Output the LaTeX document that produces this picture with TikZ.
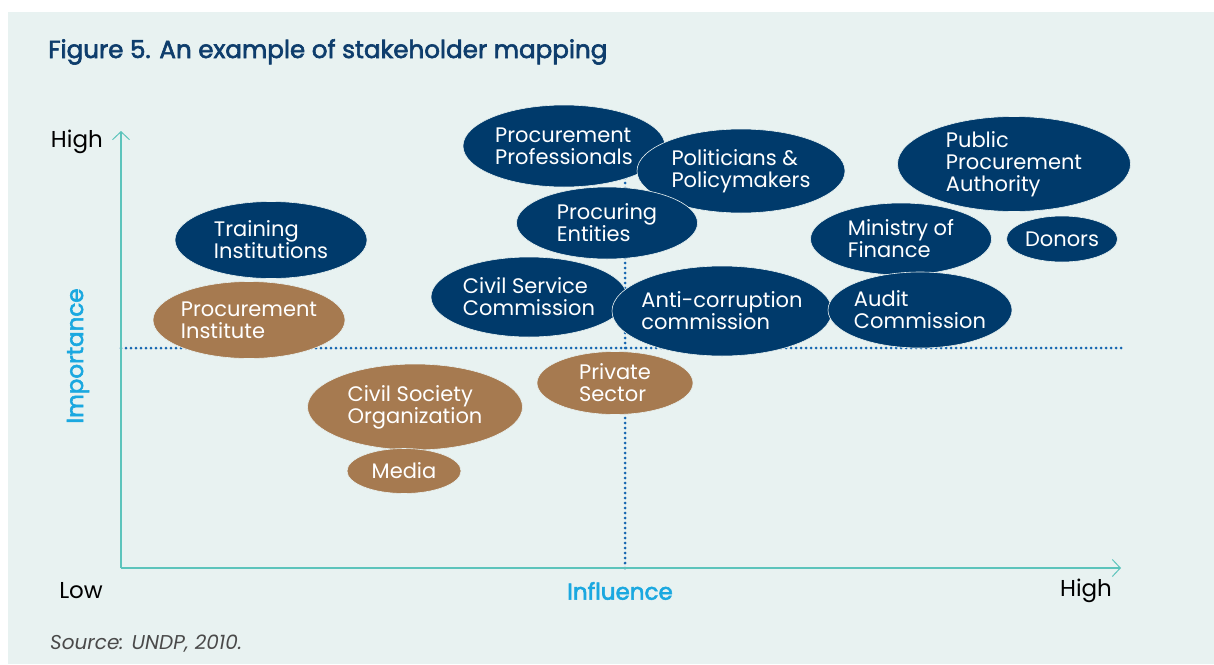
\documentclass[tikz,border=0pt]{standalone}
\usepackage{fontspec}
\usepackage{xcolor}
\usepackage{tikz}
\setmainfont{Poppins}
\newfontfamily\headfont[FakeBold=2.5]{Poppins}
\usetikzlibrary{shapes.geometric, arrows.meta}
\definecolor{panelbg}{HTML}{E8F2F1}
\definecolor{navyfill}{HTML}{003A6B}
\definecolor{brownfill}{HTML}{A67A50}
\definecolor{axisteal}{HTML}{5CC4BC}
\definecolor{dotblue}{HTML}{1565B0}
\definecolor{labelcyan}{HTML}{1AA8E0}
\definecolor{titlenavy}{HTML}{0E3D6C}
\definecolor{sourcegray}{HTML}{4A4A4A}
\tikzset{
    navyblob/.style = {ellipse, fill=navyfill, draw=panelbg, line width=0.6pt, text=white, inner xsep=-40pt, inner ysep=-20pt, align=left, font=\fontsize{21}{22}\selectfont},
    brownblob/.style = {navyblob, fill=brownfill},
    axis/.style = {line width=1.4pt, draw=axisteal, -{Straight Barb[length=8pt, width=17pt, line width=1pt]}},
    divider/.style = {draw=dotblue, line width=3pt, line cap=round, dash pattern=on 0pt off 5pt},
    axislabel/.style = {font=\fontsize{23}{25}\selectfont, text=black, inner sep=0pt},
    heading/.style = {font=\headfont\fontsize{24.6}{26}\selectfont, text=titlenavy, inner sep=0pt}
}
\begin{document}
\begin{tikzpicture}[x=1pt, y=-1pt]
\useasboundingbox (0,0) rectangle (1214,664);
\fill[white] (0,0) rectangle (1214,664);
\fill[panelbg] (8,12) rectangle (1214,664);

\node (title) [heading, anchor=base west] at (48,58) {Figure 5. An example of stakeholder mapping};

% axes and quadrant lines
\coordinate (origin) at (121,568);
\coordinate (ytip) at (121,131);
\coordinate (xtip) at (1121,568);
\coordinate (hleft) at (121,348);
\coordinate (hright) at (1124,348);
\coordinate (vbottom) at (625,568);
\coordinate (vtop) at (625,160);
\draw [divider] (hleft) -- (hright);
\draw [divider] (vbottom) -- (vtop);
\draw [axis] (origin) -- (ytip);
\draw [axis] (origin) -- (xtip);

\node (yhigh) [axislabel, anchor=east] at (103,142) {High};
\node (xlow) [axislabel, anchor=east] at (103,591) {Low};
\node (xhigh) [axislabel] at (1086,591) {High};
\node (influence) [heading, font=\headfont\fontsize{23}{25}\selectfont, text=labelcyan] at (620,591) {Influence};
\node (importance) [heading, font=\headfont\fontsize{23}{25}\selectfont, text=labelcyan, rotate=90] at (78,356) {Importance};

% stakeholders
\node (procprof) [navyblob, minimum width=202pt, minimum height=82pt] at (564,146) {Procurement\\Professionals};
\node (politicians) [navyblob, minimum width=208pt, minimum height=84pt] at (741,171) {Politicians \&\\Policymakers};
\node (procent) [navyblob, minimum width=181pt, minimum height=72pt] at (607,223) {Procuring\\Entities};
\node (civilservice) [navyblob, minimum width=196pt, minimum height=80pt] at (529,297) {Civil Service\\Commission};
\node (anticorr) [navyblob, minimum width=220pt, minimum height=90pt] at (722,311) {Anti-corruption\\commission};
\node (training) [navyblob, minimum width=192pt, minimum height=77pt] at (271,240) {Training\\Institutions};
\node (ppa) [navyblob, minimum width=233pt, minimum height=95pt] at (1014,164) {Public\\Procurement\\Authority};
\node (finance) [navyblob, minimum width=181pt, minimum height=72pt] at (901,239) {Ministry of\\Finance};
\node (donors) [navyblob, minimum width=111pt, minimum height=46pt] at (1062,239) {Donors};
\node (audit) [navyblob, minimum width=184pt, minimum height=76pt] at (920,310) {Audit\\Commission};
\node (privsector) [brownblob, minimum width=156pt, minimum height=63pt] at (615,383) {Private\\Sector};
\node (procinst) [brownblob, minimum width=192pt, minimum height=77pt] at (249,320) {Procurement\\Institute};
\node (civilsoc) [brownblob, minimum width=215pt, minimum height=86pt] at (415,407) {Civil Society\\Organization};
\node (media) [brownblob, minimum width=114pt, minimum height=45pt] at (404,471) {Media};

\node (source) [anchor=base west, inner sep=0pt, text=sourcegray, font=\itshape\fontsize{20}{22}\selectfont] at (50,649) {Source: UNDP, 2010.};
\end{tikzpicture}
\end{document}
